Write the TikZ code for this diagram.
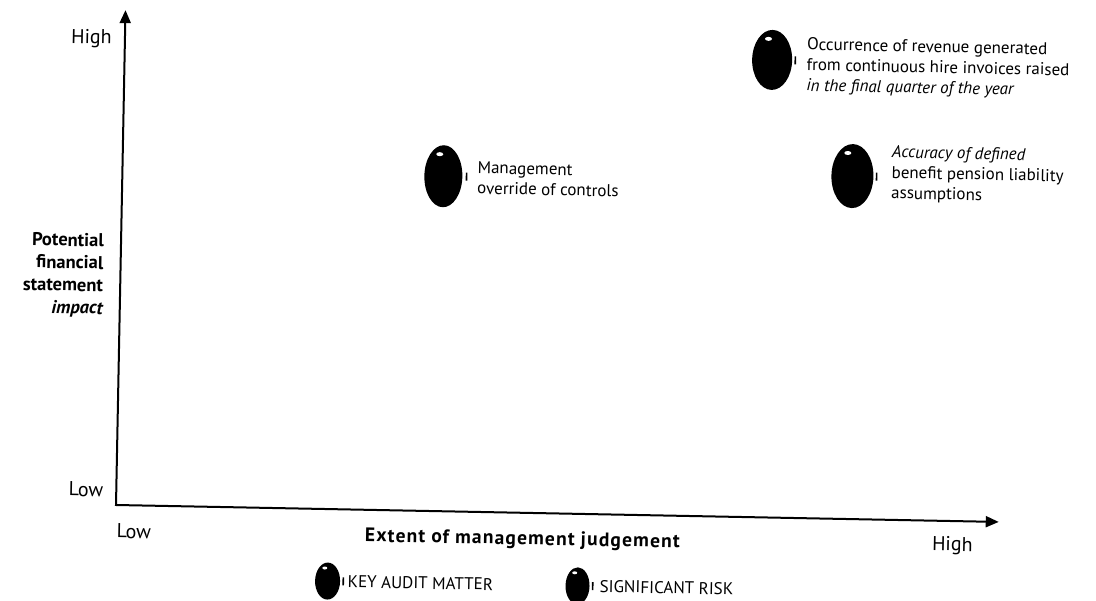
\documentclass[tikz,border=0pt]{standalone}
\usepackage{fontspec}
\setmainfont{PT Sans}
\usetikzlibrary{arrows.meta,shapes.geometric}
\begin{document}
\begin{tikzpicture}[x=1pt,y=1pt,
  axisline/.style={line width=2pt,
    {Triangle[length=13pt,width=11pt]}-{Triangle[length=13pt,width=11pt]}},
  ball/.style={fill=black, ellipse, inner sep=0pt},
  shine/.style={fill=white},
  tick/.style={line width=1.6pt},
  lbl/.style={font=\fontsize{17}{20.5}\selectfont, align=left, anchor=west, inner sep=0pt},
  axlbl/.style={font=\fontsize{20}{22}\selectfont, inner sep=0pt},
  axtitle/.style={font=\bfseries\fontsize{18.5}{22.5}\selectfont, inner sep=0pt},
  xtitlestyle/.style={font=\bfseries\fontsize{19.5}{22}\selectfont\addfontfeatures{LetterSpace=6}, inner sep=0pt},
  legtxt/.style={font=\fontsize{17}{18}\selectfont, anchor=west, inner sep=0pt}
]
\useasboundingbox (0,0) rectangle (1096,-601);
\begin{scope}[shift={(116,-505)}, rotate=-1.1, transform shape]
  % axes
  \coordinate (O) at (0,0);
  \coordinate (xend) at (883,0);
  \coordinate (yend) at (0,495);
  \draw[axisline] (yend) -- (O) -- (xend);

  % axis labels
  \node[axlbl, anchor=east] (yhigh) at (-13,466) {High};
  \node[axlbl, anchor=east] (ylow) at (-13,15) {Low};
  \node[axtitle, anchor=east, align=right] (ytitle) at (-17,229)
    {Potential\\financial\\statement\\\itshape impact};
  \node[axlbl, anchor=west] (xlow) at (1,-26) {Low};
  \node[xtitlestyle] (xtitle) at (407,-27) {Extent of management judgement};
  \node[axlbl] (xhigh) at (837,-25) {High};

  % risk 1
  \node[ball, minimum width=40pt, minimum height=60pt] (b1) at (647.5,457.6) {};
  \fill[shine] ([shift={(-4,21)}]b1.center) ellipse [x radius=3.5, y radius=2];
  \draw[tick] ([shift={(3,-4)}]b1.east) -- ([shift={(3,4)}]b1.east);
  \node[lbl] (t1) at (682,452) {Occurrence of revenue generated\\from continuous hire invoices raised\\\itshape in the final quarter of the year};

  % risk 2
  \node[ball, minimum width=38pt, minimum height=62pt] (b2) at (321,335) {};
  \fill[shine] ([shift={(-4,22)}]b2.center) ellipse [x radius=3.5, y radius=2];
  \draw[tick] ([shift={(4,-4)}]b2.east) -- ([shift={(4,4)}]b2.east);
  \node[lbl] (t2) at (355,334) {Management\\override of controls};

  % risk 3
  \node[ball, minimum width=42pt, minimum height=64pt] (b3) at (730,343) {};
  \fill[shine] ([shift={(-5,23)}]b3.center) ellipse [x radius=3.5, y radius=2];
  \draw[tick] ([shift={(3,-4)}]b3.east) -- ([shift={(3,4)}]b3.east);
  \node[lbl] (t3) at (769,346) {\itshape Accuracy of defined\\benefit pension liability\\assumptions};

  % legend
  \node[ball, minimum width=25pt, minimum height=37pt] (l1) at (213,-72) {};
  \fill[shine] ([shift={(-3,13)}]l1.center) ellipse [x radius=2.5, y radius=1.5];
  \draw[tick] ([shift={(3,-4)}]l1.east) -- ([shift={(3,4)}]l1.east);
  \node[legtxt] (lt1) at (233,-72) {KEY AUDIT MATTER};

  \node[ball, minimum width=24pt, minimum height=37pt] (l2) at (463,-72) {};
  \fill[shine] ([shift={(-3,13)}]l2.center) ellipse [x radius=2.5, y radius=1.5];
  \draw[tick] ([shift={(3,-4)}]l2.east) -- ([shift={(3,4)}]l2.east);
  \node[legtxt] (lt2) at (485,-72) {SIGNIFICANT RISK};
\end{scope}
\end{tikzpicture}
\end{document}
